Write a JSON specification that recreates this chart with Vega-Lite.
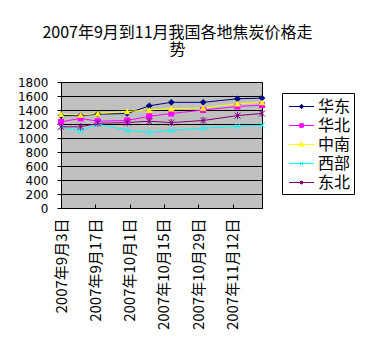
{
  "$schema": "https://vega.github.io/schema/vega-lite/v6.json",
  "autosize": "none",
  "width": 201,
  "height": 126,
  "padding": {"left": 61, "top": 82, "right": 108, "bottom": 143},
  "background": "white",
  "title": {
    "text": ["2007年9月到11月我国各地焦炭价格走", "势"],
    "font": "Noto Sans CJK SC",
    "fontSize": 16,
    "fontWeight": "normal",
    "color": "black",
    "anchor": "middle",
    "dx": 16,
    "offset": 18,
    "lineHeight": 17
  },
  "config": {
    "view": {"fill": "#C0C0C0", "stroke": "black", "strokeWidth": 1},
    "font": "Noto Sans CJK SC"
  },
  "data": {
    "values": [
      {"date": "2007-09-03", "series": "华东", "value": 1320},
      {"date": "2007-09-11", "series": "华东", "value": 1320},
      {"date": "2007-09-18", "series": "华东", "value": 1340},
      {"date": "2007-09-30", "series": "华东", "value": 1350},
      {"date": "2007-10-09", "series": "华东", "value": 1460},
      {"date": "2007-10-18", "series": "华东", "value": 1510},
      {"date": "2007-10-31", "series": "华东", "value": 1510},
      {"date": "2007-11-14", "series": "华东", "value": 1560},
      {"date": "2007-11-24", "series": "华东", "value": 1570},
      {"date": "2007-09-03", "series": "华北", "value": 1230},
      {"date": "2007-09-11", "series": "华北", "value": 1280},
      {"date": "2007-09-18", "series": "华北", "value": 1240},
      {"date": "2007-09-30", "series": "华北", "value": 1250},
      {"date": "2007-10-09", "series": "华北", "value": 1310},
      {"date": "2007-10-18", "series": "华北", "value": 1350},
      {"date": "2007-10-31", "series": "华北", "value": 1400},
      {"date": "2007-11-14", "series": "华北", "value": 1450},
      {"date": "2007-11-24", "series": "华北", "value": 1470},
      {"date": "2007-09-03", "series": "中南", "value": 1340},
      {"date": "2007-09-11", "series": "中南", "value": 1330},
      {"date": "2007-09-18", "series": "中南", "value": 1350},
      {"date": "2007-09-30", "series": "中南", "value": 1380},
      {"date": "2007-10-09", "series": "中南", "value": 1400},
      {"date": "2007-10-18", "series": "中南", "value": 1420},
      {"date": "2007-10-31", "series": "中南", "value": 1430},
      {"date": "2007-11-14", "series": "中南", "value": 1490},
      {"date": "2007-11-24", "series": "中南", "value": 1510},
      {"date": "2007-09-03", "series": "西部", "value": 1160},
      {"date": "2007-09-11", "series": "西部", "value": 1100},
      {"date": "2007-09-18", "series": "西部", "value": 1200},
      {"date": "2007-09-30", "series": "西部", "value": 1110},
      {"date": "2007-10-09", "series": "西部", "value": 1080},
      {"date": "2007-10-18", "series": "西部", "value": 1110},
      {"date": "2007-10-31", "series": "西部", "value": 1140},
      {"date": "2007-11-14", "series": "西部", "value": 1170},
      {"date": "2007-11-24", "series": "西部", "value": 1180},
      {"date": "2007-09-03", "series": "东北", "value": 1160},
      {"date": "2007-09-11", "series": "东北", "value": 1160},
      {"date": "2007-09-18", "series": "东北", "value": 1210},
      {"date": "2007-09-30", "series": "东北", "value": 1220},
      {"date": "2007-10-09", "series": "东北", "value": 1240},
      {"date": "2007-10-18", "series": "东北", "value": 1220},
      {"date": "2007-10-31", "series": "东北", "value": 1250},
      {"date": "2007-11-14", "series": "东北", "value": 1320},
      {"date": "2007-11-24", "series": "东北", "value": 1350}
    ]
  },
  "encoding": {
    "x": {
      "field": "date",
      "type": "temporal",
      "scale": {
        "type": "utc",
        "domain": [
          {"year": 2007, "month": 9, "date": 3, "utc": true},
          {"year": 2007, "month": 11, "date": 24, "utc": true}
        ]
      },
      "axis": {
        "title": null,
        "values": [
          {"year": 2007, "month": 9, "date": 3, "utc": true},
          {"year": 2007, "month": 9, "date": 17, "utc": true},
          {"year": 2007, "month": 10, "date": 1, "utc": true},
          {"year": 2007, "month": 10, "date": 15, "utc": true},
          {"year": 2007, "month": 10, "date": 29, "utc": true},
          {"year": 2007, "month": 11, "date": 12, "utc": true}
        ],
        "labelExpr": "utcFormat(datum.value, '%Y年%-m月%-d日')",
        "labelAngle": 270,
        "labelFontSize": 15,
        "labelColor": "black",
        "labelPadding": 14,
        "labelFlush": false,
        "labelOverlap": false,
        "grid": false,
        "domain": true,
        "domainColor": "black",
        "ticks": true,
        "tickColor": "black",
        "tickSize": -4
      }
    },
    "y": {
      "field": "value",
      "type": "quantitative",
      "scale": {"domain": [0, 1800], "nice": false, "zero": true},
      "axis": {
        "title": null,
        "values": [0, 200, 400, 600, 800, 1000, 1200, 1400, 1600, 1800],
        "format": "d",
        "labelOverlap": false,
        "labelFlush": false,
        "labelFont": "DejaVu Sans",
        "labelFontSize": 12,
        "labelColor": "black",
        "labelPadding": 9,
        "tickSize": 4,
        "tickColor": "black",
        "grid": true,
        "gridColor": "black",
        "gridOpacity": 1,
        "domainColor": "black"
      }
    },
    "color": {
      "field": "series",
      "type": "nominal",
      "sort": ["华东", "华北", "中南", "西部", "东北"],
      "scale": {
        "domain": ["华东", "华北", "中南", "西部", "东北"],
        "range": ["#000080", "#FF00FF", "#FFFF00", "#00FFFF", "#800080"]
      },
      "legend": null
    }
  },
  "layer": [
    {
      "mark": {"type": "line", "strokeWidth": 1},
      "encoding": {
        "color": {
          "field": "series",
          "type": "nominal",
          "sort": ["华东", "华北", "中南", "西部", "东北"],
          "legend": {
            "title": null,
            "orient": "none",
            "legendX": 221,
            "legendY": 11,
            "padding": 3,
            "strokeColor": "black",
            "fillColor": "white",
            "symbolSize": 400,
            "symbolOffset": 6,
            "labelFontSize": 16,
            "labelColor": "black",
            "labelOffset": 6,
            "rowPadding": 0,
            "encode": {
              "symbols": {
                "update": {
                  "shape": {"signal": "datum.value === '华东' ? 'M-1.25,0H1.25M0,-0.22L0.22,0L0,0.22L-0.22,0Z' : datum.value === '华北' ? 'M-1.25,0H1.25M-0.18,-0.18H0.18V0.18H-0.18Z' : datum.value === '中南' ? 'M-1.25,0H1.25M0,-0.24L0.22,0.16H-0.22Z' : datum.value === '西部' ? 'M-1.25,0H1.25M-0.15,-0.15L0.15,0.15M-0.15,0.15L0.15,-0.15' : 'M-1.25,0H1.25M-0.15,-0.15L0.15,0.15M-0.15,0.15L0.15,-0.15M0,-0.2V0.2'"},
                  "stroke": {"scale": "color", "field": "value"},
                  "fill": {"scale": "color", "field": "value"},
                  "strokeWidth": {"value": 1},
                  "opacity": {"value": 1}
                }
              }
            }
          }
        }
      }
    },
    {
      "transform": [{"filter": "datum.series === '华东'"}],
      "mark": {"type": "point", "shape": "diamond", "filled": true, "size": 45, "opacity": 1}
    },
    {
      "transform": [{"filter": "datum.series === '华北'"}],
      "mark": {"type": "point", "shape": "square", "filled": true, "size": 36, "opacity": 1}
    },
    {
      "transform": [{"filter": "datum.series === '中南'"}],
      "mark": {"type": "point", "shape": "triangle-up", "filled": true, "size": 45, "opacity": 1}
    },
    {
      "transform": [{"filter": "datum.series === '西部'"}],
      "mark": {"type": "point", "shape": "M-1,-1L1,1M-1,1L1,-1", "filled": false, "size": 36, "strokeWidth": 1, "opacity": 1}
    },
    {
      "transform": [{"filter": "datum.series === '东北'"}],
      "mark": {"type": "point", "shape": "M-1,-1L1,1M-1,1L1,-1M0,-1.2L0,1.2", "filled": false, "size": 36, "strokeWidth": 1, "opacity": 1}
    }
  ]
}
